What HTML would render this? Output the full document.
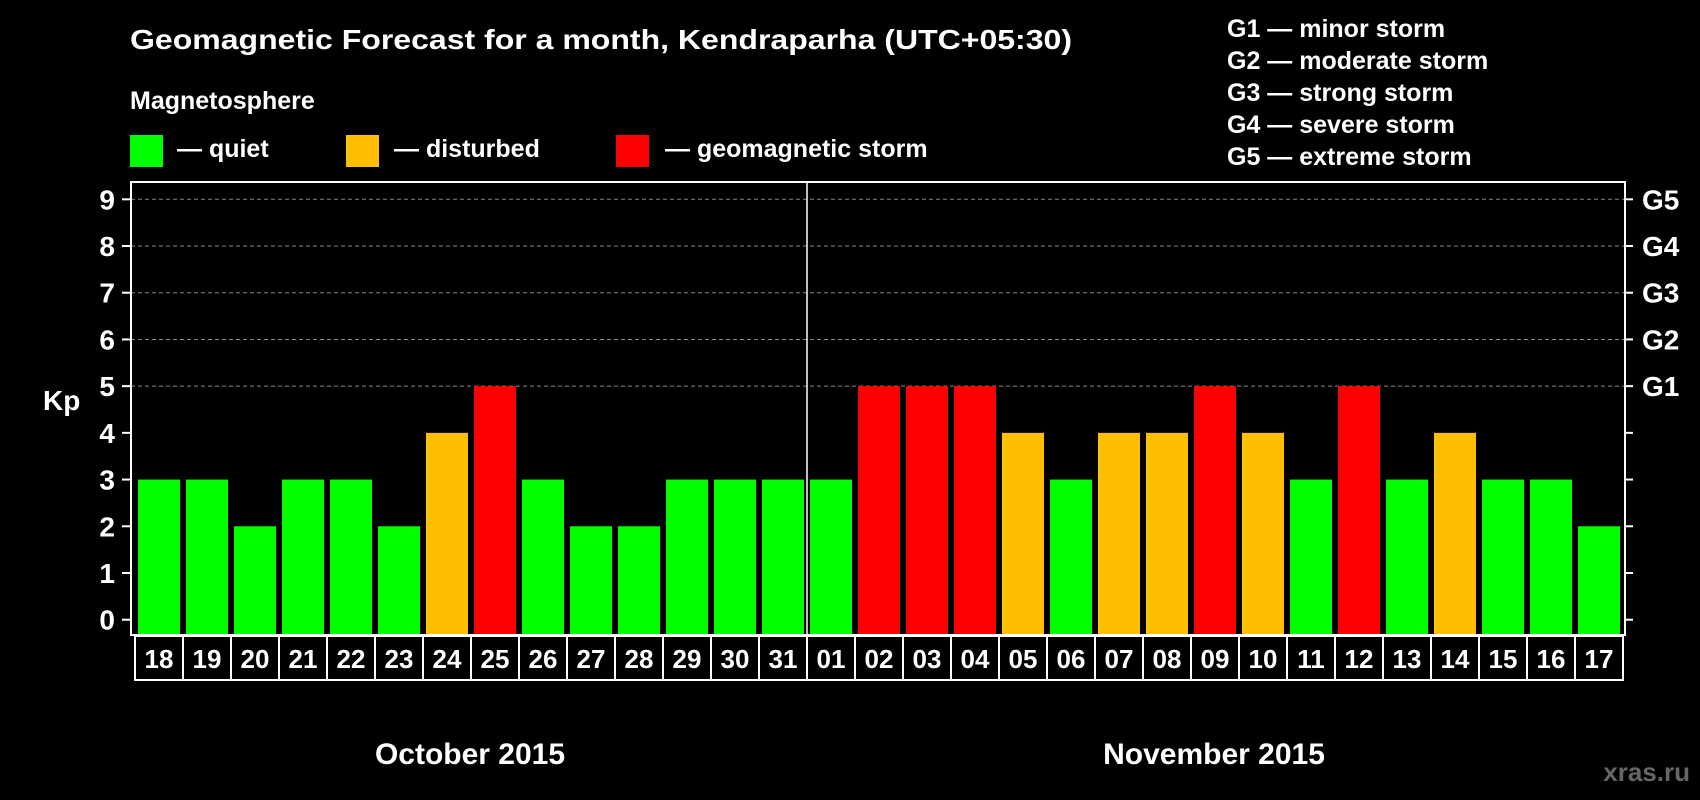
<!DOCTYPE html>
<html><head><meta charset="utf-8"><style>
html,body{margin:0;padding:0;background:#000;}
svg{display:block;font-family:"Liberation Sans",sans-serif;font-weight:bold;}
</style></head><body>
<svg id="chart" width="1700" height="800" viewBox="0 0 1700 800">
<rect width="1700" height="800" fill="#000"/>
<text x="130" y="49" fill="#fff" font-size="28" textLength="942" lengthAdjust="spacingAndGlyphs">Geomagnetic Forecast for a month, Kendraparha (UTC+05:30)</text>
<text x="130" y="109" fill="#fff" font-size="25">Magnetosphere</text>
<rect x="130" y="135" width="33" height="32" fill="#00ff00"/>
<text x="177" y="157" fill="#fff" font-size="25">— quiet</text>
<rect x="346" y="135" width="33" height="32" fill="#ffbf00"/>
<text x="394" y="157" fill="#fff" font-size="25">— disturbed</text>
<rect x="616" y="135" width="33" height="32" fill="#ff0000"/>
<text x="665" y="157" fill="#fff" font-size="25">— geomagnetic storm</text>
<g fill="#fff" font-size="25">
<text x="1227" y="37">G1 — minor storm</text>
<text x="1227" y="69">G2 — moderate storm</text>
<text x="1227" y="101">G3 — strong storm</text>
<text x="1227" y="133">G4 — severe storm</text>
<text x="1227" y="165">G5 — extreme storm</text>
</g>
<text x="43" y="410" fill="#fff" font-size="28">Kp</text>
<text x="470" y="764" fill="#fff" font-size="30" text-anchor="middle">October 2015</text>
<text x="1214" y="764" fill="#fff" font-size="30" text-anchor="middle">November 2015</text>
<text x="1690" y="781" fill="#666" font-size="26" text-anchor="end">xras.ru</text>
<g id="plot"></g>
</svg>
<script>
const days = ["18","19","20","21","22","23","24","25","26","27","28","29","30","31","01","02","03","04","05","06","07","08","09","10","11","12","13","14","15","16","17"];
const kpValues = [3,3,2,3,3,2,4,5,3,2,2,3,3,3,3,5,5,5,4,3,4,4,5,4,3,5,3,4,3,3,2];
const yTicks = [0,1,2,3,4,5,6,7,8,9];
const gLabels = ["G1","G2","G3","G4","G5"];
const gLevels = [5,6,7,8,9];

const NS="http://www.w3.org/2000/svg";
const plot=document.getElementById('plot');
const pLeft=131,pRight=1625,pTop=182,pBottom=635;
const y0=619.7,unit=46.71;
const yScale=v=>y0-v*unit;
const pitch=48,bw=42,x0=138;
const xScale=i=>x0+i*pitch;
function mk(tag,attrs){const e=document.createElementNS(NS,tag);for(const k in attrs)e.setAttribute(k,attrs[k]);plot.appendChild(e);return e;}

yTicks.forEach(t=>{
  const y=yScale(t);
  if(t>=5){const g=mk('line',{x1:pLeft,x2:pRight,y1:y,y2:y,stroke:'#888','stroke-width':1,'stroke-dasharray':'4 3'});
  
  }
  const a=mk('line',{x1:pLeft-9,x2:pLeft,y1:y,y2:y,stroke:'#fff','stroke-width':2});
  
  
  const b=mk('line',{x1:pRight,x2:pRight+8,y1:y,y2:y,stroke:'#fff','stroke-width':2});
  
  
  const tx=mk('text',{x:115,y:y+10,fill:'#fff','font-size':28,'text-anchor':'end'});
  tx.textContent=t;
  
  
});
gLevels.forEach((lv,i)=>{
  const tx=mk('text',{x:1642,y:yScale(lv)+10,fill:'#fff','font-size':28});
  tx.textContent=gLabels[i];
  
  
});
kpValues.forEach((v,i)=>{
  const c=v>=5?'#ff0000':(v>=4?'#ffbf00':'#00ff00');
  const r=mk('rect',{x:xScale(i),y:yScale(v),width:bw,height:pBottom-yScale(v),fill:c});
  
  
});
const frame=mk('rect',{x:pLeft,y:pTop,width:pRight-pLeft,height:pBottom-pTop,fill:'none',stroke:'#fff','stroke-width':2});


const sep=mk('line',{x1:xScale(14)-3,x2:xScale(14)-3,y1:pTop,y2:pBottom,stroke:'#fff','stroke-width':1.5});


days.forEach((d,i)=>{
  const cx=xScale(i)-3;
  const cell=mk('rect',{x:cx,y:636,width:pitch,height:44,fill:'none',stroke:'#fff','stroke-width':2});
  
  
  const tx=mk('text',{x:cx+pitch/2,y:668,fill:'#fff','font-size':26,'text-anchor':'middle'});
  tx.textContent=d;
  
  
});
</script>
</body></html>
